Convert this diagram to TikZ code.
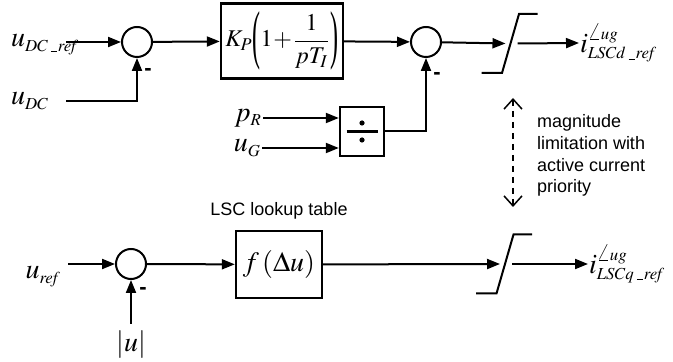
\documentclass[tikz,border=0pt]{standalone}
\usepackage{mathptmx}
\usepackage{fontspec}
\setmainfont{Liberation Serif}
\setsansfont{Liberation Sans}
\usetikzlibrary{arrows.meta, positioning, calc}
\def\defaultscriptratio{.6}
\newcommand{\subbar}{\kern1.5pt\rule[-0.3pt]{3pt}{0.45pt}\kern0.5pt}
\newcommand{\tallparen}[1]{\vcenter{\hbox{\scalebox{1}[2.7]{#1}}}}

\begin{document}
\begin{tikzpicture}[x=0.5pt, y=-0.5pt, line width=1pt,
        >={Triangle[length=6.5pt, width=5pt]},
        sumnode/.style={draw, circle, minimum size=15pt, inner sep=0pt},
        blocknode/.style={draw, line width=1.2pt, inner sep=1pt},
        signal/.style={font=\fontsize{14}{16}\selectfont, inner sep=0pt},
        inlabel/.style={signal, anchor=base east, text width=27pt, align=left},
        minus/.style={font=\sffamily\bfseries\fontsize{11}{12}\selectfont, inner sep=0pt},
        note/.style={font=\sffamily\fontsize{9}{10.85}\selectfont, inner sep=0pt}]

        \useasboundingbox (0,0) rectangle (673,362);

        % d channel
        \node[sumnode] (sum1) at (137,42) {};
        \node[blocknode, minimum width=61pt, minimum height=37.5pt, font=\fontsize{12}{14}\selectfont] (pi) at (282,41)
            {$K_P\mathopen{\tallparen{(}}1\!+\!\displaystyle\frac{1}{pT_I}\mathclose{\tallparen{)}}$};
        \node[sumnode] (sum2) at (426,42) {};
        \node[blocknode, minimum width=22pt, minimum height=24.5pt] (div) at (362,131.5) {};
        \coordinate (sat1) at (510.5,43.5);

        \node[inlabel] (udcref) at (66,47) {$u_{DC\subbar\mathit{ref}}$};
        \node[inlabel] (udc) at (66,105) {$u_{DC}$};
        \node[signal, anchor=east] (pr) at (263,118) {$p_R$};
        \node[signal, anchor=east] (ug) at (262,148) {$u_G$};
        \node[signal, anchor=west] (idref) at (579,43) {$i^{\angle ug}_{LSCd\subbar\mathit{ref}}$};

        \node[minus] at (148,72) {-};
        \node[minus] at (437,76) {-};

        % divide symbol
        \draw[line width=1.5pt] ($(div)+(-15.5,0)$) -- ($(div)+(15.5,0)$);
        \fill ($(div)+(0,-8.5)$) circle (1.3pt);
        \fill ($(div)+(0,8.5)$) circle (1.3pt);

        % q channel
        \node[sumnode] (sum3) at (131,264) {};
        \node[blocknode, minimum width=43pt, minimum height=33.5pt, font=\fontsize{14}{16}\selectfont] (fbox) at (279,264.5)
            {$f\,(\Delta u)$};
        \node[note, above=5pt of fbox] (lut) {LSC lookup table};
        \coordinate (sat2) at (505,264);

        \node[signal, anchor=base east] (uref) at (62,279) {$u_{\mathit{ref}}$};
        \node[signal, below=25pt of sum3] (absu) {$|u|$};
        \node[signal, anchor=west] (iqref) at (588,264) {$i^{\angle ug}_{LSCq\subbar\mathit{ref}}$};

        \node[minus] at (143,291) {-};

        % limiters
        \foreach \s in {sat1, sat2}
            \draw (\s) ++(-29,29.5) -- ++(20.5,0) -- ++(17,-59) -- ++(18.5,0);

        % connectors
        \draw[->] (udcref.east |- sum1) -- (sum1);
        \draw[->] (udc.east) -| (sum1);
        \draw[->] (sum1) -- (pi);
        \draw[->] (pi) -- (sum2);
        \draw[->] (pr.east) -- (pr.east -| div.west);
        \draw[->] (ug.east) -- (ug.east -| div.west);
        \draw[->] (div) -| (sum2);
        \draw[->] (sum2) -- ([xshift=-2.5pt]sat1);
        \draw[->] ([xshift=3.5pt]sat1) -- (idref.west);

        \draw[->] ([xshift=3pt]uref.east |- sum3) -- (sum3);
        \draw[->] ([yshift=3pt]absu.north) -- (sum3);
        \draw[->] (sum3) -- (fbox);
        \draw[->] (fbox) -- ([xshift=-2.5pt]sat2);
        \draw[->] ([xshift=3.5pt]sat2) -- (iqref.west);

        % magnitude limitation
        \coordinate (limtop) at (513,98);
        \coordinate (limbot) at (513,207);
        \draw[{Straight Barb[length=5pt, width=9pt]}-{Straight Barb[length=5pt, width=9pt]}, line width=0.75pt,
            dash pattern=on 3pt off 2.5pt] (limtop) -- (limbot);
        \node[note, anchor=west, align=left] (limtext) at (536,155.5)
            {magnitude\\limitation with\\active current\\priority};

    \end{tikzpicture}
\end{document}
